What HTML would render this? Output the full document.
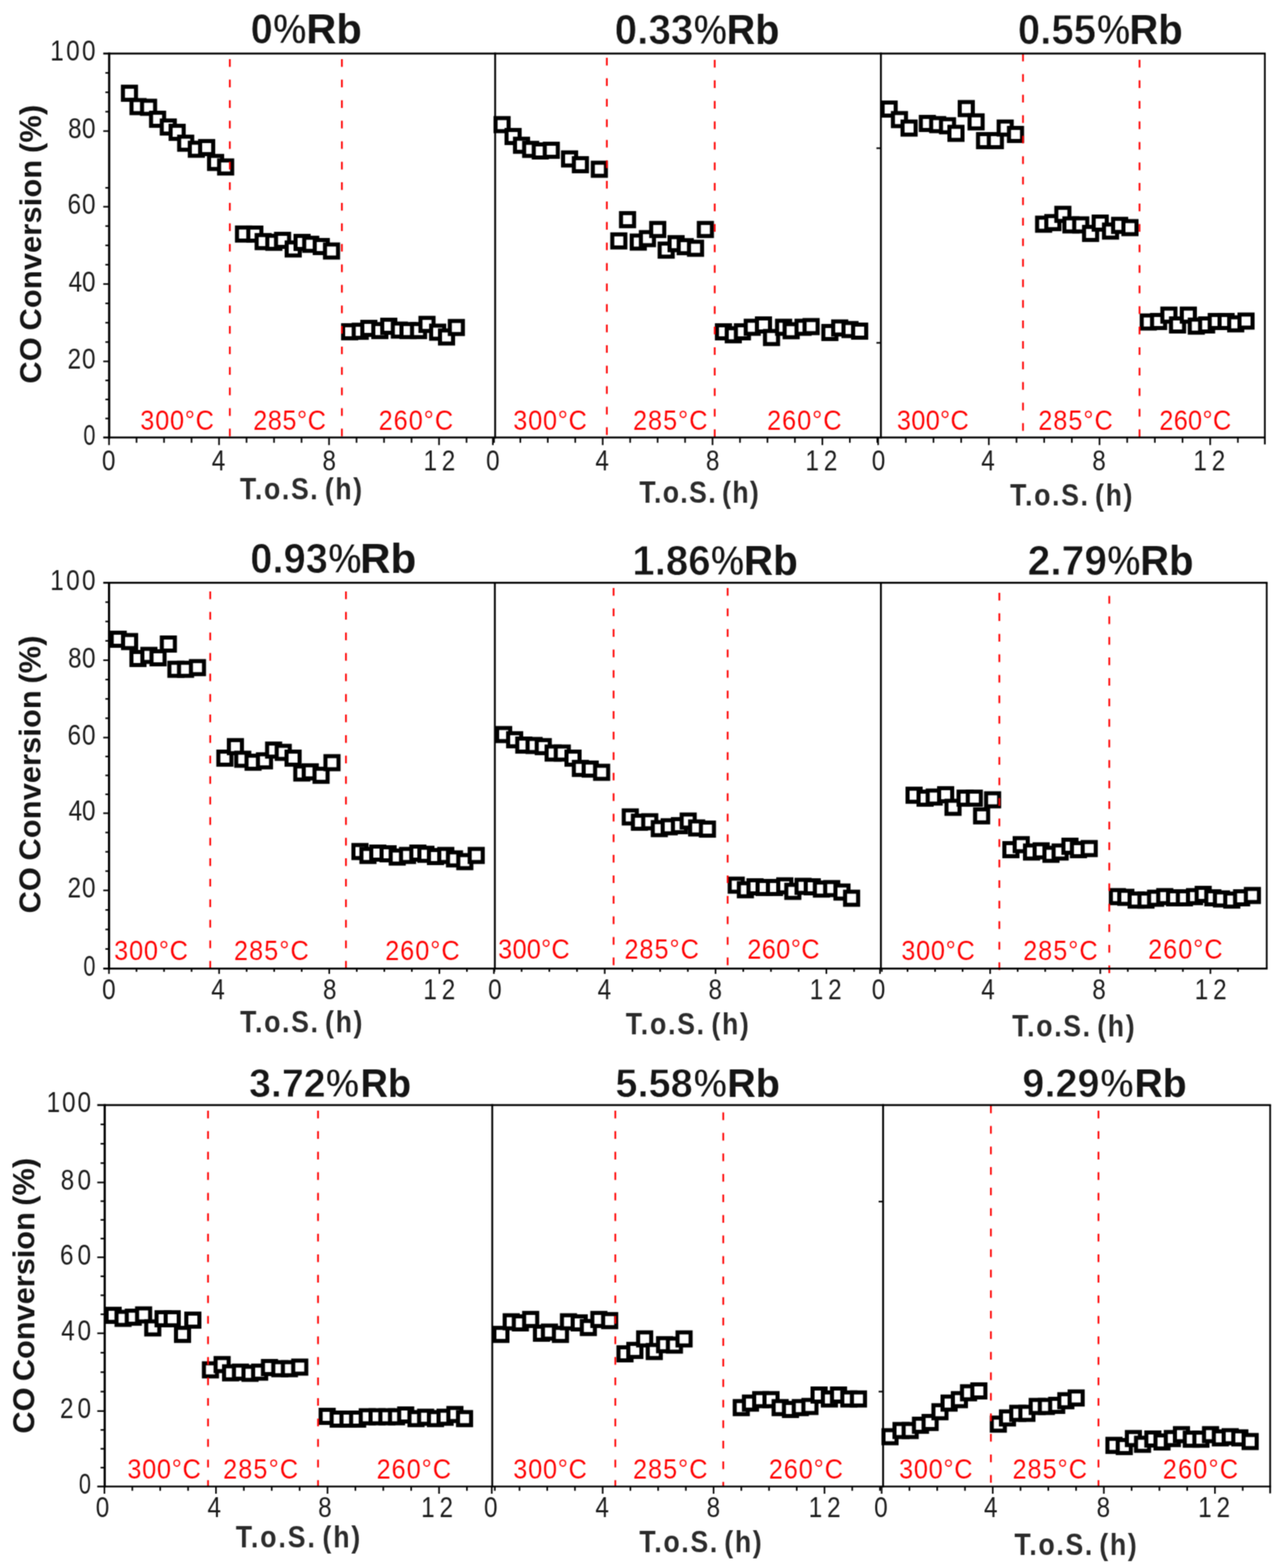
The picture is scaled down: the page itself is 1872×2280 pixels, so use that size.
<!DOCTYPE html>
<html lang="en">
<head>
<meta charset="utf-8">
<title>CO Conversion vs T.o.S.</title>
<style>html,body{margin:0;padding:0;background:#fff}body{width:1872px;height:2280px;overflow:hidden}svg{display:block}</style>
</head>
<body>
<svg width="1872" height="2280" viewBox="0 0 1872 2280" role="img" aria-label="CO conversion versus time on stream for nine Rb loadings" font-family="'Liberation Sans', Arial, sans-serif">
<defs><filter id="soft" x="0" y="0" width="1872" height="2280" filterUnits="userSpaceOnUse" color-interpolation-filters="sRGB"><feConvolveMatrix order="3" kernelMatrix="0.0484 0.1232 0.0484 0.1232 0.3136 0.1232 0.0484 0.1232 0.0484" edgeMode="duplicate" preserveAlpha="true"/></filter></defs>
<g filter="url(#soft)">
<rect width="1872" height="2280" fill="#fff"/>
<g id="row1">
<g fill="#fff" stroke="#000" stroke-width="5.9"><rect x="178.8" y="126.1" width="19" height="19"/><rect x="191.3" y="145.5" width="19" height="19"/><rect x="206.6" y="146.5" width="19" height="19"/><rect x="219.7" y="163.9" width="19" height="19"/><rect x="235.3" y="175.2" width="19" height="19"/><rect x="248.2" y="182.9" width="19" height="19"/><rect x="260.6" y="198.7" width="19" height="19"/><rect x="276.1" y="207.5" width="19" height="19"/><rect x="291.1" y="205.1" width="19" height="19"/><rect x="304.1" y="226.7" width="19" height="19"/><rect x="318.7" y="233.3" width="19" height="19"/><rect x="344.7" y="330.8" width="19" height="19"/><rect x="361.2" y="330.9" width="19" height="19"/><rect x="373.3" y="341.8" width="19" height="19"/><rect x="388.8" y="342.8" width="19" height="19"/><rect x="401.5" y="340" width="19" height="19"/><rect x="417" y="352.5" width="19" height="19"/><rect x="429.9" y="343" width="19" height="19"/><rect x="442.5" y="345.7" width="19" height="19"/><rect x="457.8" y="349" width="19" height="19"/><rect x="472.7" y="355.5" width="19" height="19"/><rect x="499.1" y="472.9" width="19" height="19"/><rect x="514.5" y="472.2" width="19" height="19"/><rect x="527" y="468" width="19" height="19"/><rect x="543" y="471.2" width="19" height="19"/><rect x="556" y="464.9" width="19" height="19"/><rect x="571.4" y="470.5" width="19" height="19"/><rect x="584" y="471.2" width="19" height="19"/><rect x="599.3" y="471.2" width="19" height="19"/><rect x="611.6" y="462.2" width="19" height="19"/><rect x="627.1" y="473.5" width="19" height="19"/><rect x="640" y="480.5" width="19" height="19"/><rect x="654.3" y="466.7" width="19" height="19"/></g>
<g fill="#fff" stroke="#000" stroke-width="5.9"><rect x="720.8" y="171.7" width="19" height="19"/><rect x="736.8" y="189" width="19" height="19"/><rect x="749.1" y="201.7" width="19" height="19"/><rect x="762.4" y="207.7" width="19" height="19"/><rect x="776.4" y="210" width="19" height="19"/><rect x="792.4" y="209" width="19" height="19"/><rect x="819" y="221.6" width="19" height="19"/><rect x="834.7" y="230" width="19" height="19"/><rect x="862.3" y="236.6" width="19" height="19"/><rect x="890.6" y="340.8" width="19" height="19"/><rect x="903.3" y="309.9" width="19" height="19"/><rect x="918.9" y="342.5" width="19" height="19"/><rect x="932.2" y="337.5" width="19" height="19"/><rect x="947.2" y="324.2" width="19" height="19"/><rect x="959.5" y="354.2" width="19" height="19"/><rect x="973.9" y="344.8" width="19" height="19"/><rect x="987.2" y="349.2" width="19" height="19"/><rect x="1002.2" y="351.5" width="19" height="19"/><rect x="1016.5" y="324.2" width="19" height="19"/><rect x="1042.8" y="473" width="19" height="19"/><rect x="1057.1" y="477.3" width="19" height="19"/><rect x="1070.4" y="473" width="19" height="19"/><rect x="1084.7" y="466.4" width="19" height="19"/><rect x="1101" y="463" width="19" height="19"/><rect x="1112.7" y="481.3" width="19" height="19"/><rect x="1130.3" y="466.4" width="19" height="19"/><rect x="1141.3" y="471.4" width="19" height="19"/><rect x="1158.6" y="466.4" width="19" height="19"/><rect x="1170.3" y="465.4" width="19" height="19"/><rect x="1197.6" y="474" width="19" height="19"/><rect x="1211.9" y="467.4" width="19" height="19"/><rect x="1226.9" y="469.7" width="19" height="19"/><rect x="1240.9" y="472" width="19" height="19"/></g>
<g fill="#fff" stroke="#000" stroke-width="5.9"><rect x="1283.8" y="149.1" width="19" height="19"/><rect x="1298.8" y="164.4" width="19" height="19"/><rect x="1312.8" y="176.7" width="19" height="19"/><rect x="1339.4" y="170" width="19" height="19"/><rect x="1354.4" y="171.7" width="19" height="19"/><rect x="1368.7" y="173.4" width="19" height="19"/><rect x="1381" y="184.4" width="19" height="19"/><rect x="1396" y="148.4" width="19" height="19"/><rect x="1410.3" y="167.7" width="19" height="19"/><rect x="1422.6" y="195" width="19" height="19"/><rect x="1438.3" y="195" width="19" height="19"/><rect x="1452.6" y="176.7" width="19" height="19"/><rect x="1467.6" y="186" width="19" height="19"/><rect x="1508.5" y="316.5" width="19" height="19"/><rect x="1521.9" y="314.2" width="19" height="19"/><rect x="1536.5" y="302.2" width="19" height="19"/><rect x="1548.2" y="317.5" width="19" height="19"/><rect x="1562.5" y="317.5" width="19" height="19"/><rect x="1576.8" y="329.9" width="19" height="19"/><rect x="1590.8" y="314.9" width="19" height="19"/><rect x="1605.8" y="326.5" width="19" height="19"/><rect x="1619.1" y="318.2" width="19" height="19"/><rect x="1634.1" y="321.5" width="19" height="19"/><rect x="1660.7" y="458.7" width="19" height="19"/><rect x="1675.7" y="458" width="19" height="19"/><rect x="1690.7" y="448.7" width="19" height="19"/><rect x="1703.3" y="463" width="19" height="19"/><rect x="1719" y="448.7" width="19" height="19"/><rect x="1730.6" y="464.7" width="19" height="19"/><rect x="1745.6" y="463" width="19" height="19"/><rect x="1759.6" y="458" width="19" height="19"/><rect x="1773.9" y="458" width="19" height="19"/><rect x="1787.9" y="461.4" width="19" height="19"/><rect x="1802.9" y="457.4" width="19" height="19"/></g>
<g stroke="#ff0000" stroke-width="2.5" stroke-dasharray="11.2 18.65" fill="none"><path d="M334.3 86V636.2"/><path d="M497.3 86V636.2"/><path d="M882.7 84V636.2"/><path d="M1039.6 87V636.2"/><path d="M1488 78V636.2"/><path d="M1657.5 87V636.2"/></g>
<g stroke="#000" fill="none"><path stroke-width="2.7" d="M150.2 77.8H1841.05"/><path stroke-width="2.7" d="M150.2 636.2H1841.05"/><path stroke-width="2.5" d="M1839.8 77.8V646.2"/><path stroke-width="3.2" d="M158.8 76.45V637.55"/><path stroke-width="2.7" d="M720.2 76.45V637.55"/><path stroke-width="2.7" d="M1281.3 76.45V637.55"/></g>
<g stroke="#000" stroke-width="2.3" fill="none"><path d="M153.3 608.53H158.5"/><path d="M153.3 580.85H158.5"/><path d="M153.3 553.17H158.5"/><path d="M150.2 525.5H158.5"/><path d="M153.3 497.38H158.5"/><path d="M153.3 469.25H158.5"/><path d="M153.3 441.12H158.5"/><path d="M150.2 413H158.5"/><path d="M153.3 384.9H158.5"/><path d="M153.3 356.8H158.5"/><path d="M153.3 328.7H158.5"/><path d="M150.2 300.6H158.5"/><path d="M153.3 273.1H158.5"/><path d="M150.2 190.6H158.5"/><path d="M153.3 162.4H158.5"/><path d="M153.3 134.2H158.5"/><path d="M153.3 106H158.5"/><path d="M158.6 636.2V647.2"/><path d="M198.6 636.2V643.8"/><path d="M238.6 636.2V643.8"/><path d="M278.6 636.2V643.8"/><path d="M318.6 636.2V647.2"/><path d="M358.6 636.2V643.8"/><path d="M398.6 636.2V643.8"/><path d="M438.6 636.2V643.8"/><path d="M478.6 636.2V647.2"/><path d="M518.6 636.2V643.8"/><path d="M558.6 636.2V643.8"/><path d="M598.6 636.2V643.8"/><path d="M638.6 636.2V647.2"/><path d="M678.6 636.2V643.8"/><path d="M718.6 636.2V643.8"/><path d="M716.9 636.2V647.2"/><path d="M756.84 636.2V643.8"/><path d="M796.78 636.2V643.8"/><path d="M836.72 636.2V643.8"/><path d="M876.66 636.2V647.2"/><path d="M916.6 636.2V643.8"/><path d="M956.54 636.2V643.8"/><path d="M996.48 636.2V643.8"/><path d="M1036.42 636.2V647.2"/><path d="M1076.36 636.2V643.8"/><path d="M1116.3 636.2V643.8"/><path d="M1156.24 636.2V643.8"/><path d="M1196.18 636.2V647.2"/><path d="M1236.12 636.2V643.8"/><path d="M1276.06 636.2V643.8"/><path d="M1277.3 636.2V647.2"/><path d="M1317.55 636.2V643.8"/><path d="M1357.8 636.2V643.8"/><path d="M1398.05 636.2V643.8"/><path d="M1438.3 636.2V647.2"/><path d="M1478.55 636.2V643.8"/><path d="M1518.8 636.2V643.8"/><path d="M1559.05 636.2V643.8"/><path d="M1599.3 636.2V647.2"/><path d="M1639.55 636.2V643.8"/><path d="M1679.8 636.2V643.8"/><path d="M1720.05 636.2V643.8"/><path d="M1760.3 636.2V647.2"/><path d="M1800.55 636.2V643.8"/><path d="M1274.8 215.5H1281.3"/><path d="M1274.8 498.5H1281.3"/></g>
<text transform="translate(73.11 88.3) scale(0.83 1)" font-size="42.7" letter-spacing="4.09" fill="#1c1c1c">100</text>
<text transform="translate(98.97 201.1) scale(0.83 1)" font-size="42.7" letter-spacing="0.77" fill="#1c1c1c">80</text>
<text transform="translate(98.14 311.1) scale(0.83 1)" font-size="42.7" letter-spacing="1.77" fill="#1c1c1c">60</text>
<text transform="translate(99.8 423.5) scale(0.83 1)" font-size="42.7" letter-spacing="-0.23" fill="#1c1c1c">40</text>
<text transform="translate(98.14 536) scale(0.83 1)" font-size="42.7" letter-spacing="1.77" fill="#1c1c1c">20</text>
<text transform="translate(121.36 646.7) scale(0.7409 1)" font-size="42.7" fill="#1c1c1c">0</text>
<text transform="translate(59.5 557.75) rotate(-90)" font-size="44.7" font-weight="bold" letter-spacing="0.26" word-spacing="-3" fill="#151515">CO Conversion (%)</text>
<text transform="translate(148.34 683.8) scale(0.83 1)" font-size="42.7" fill="#1c1c1c">0</text>
<text transform="translate(307.95 683.8) scale(0.83 1)" font-size="42.7" fill="#1c1c1c">4</text>
<text transform="translate(468.96 683.8) scale(0.83 1)" font-size="42.7" fill="#1c1c1c">8</text>
<text transform="translate(615.91 683.8) scale(0.83 1)" font-size="42.7" letter-spacing="8.34" fill="#1c1c1c">12</text>
<text transform="translate(349 725.6) scale(0.88 1)" font-size="44" font-weight="bold" letter-spacing="2.73" word-spacing="-6" fill="#2b2b2b">T.o.S. (h)</text>
<text y="63.3" font-size="61.5" font-weight="bold" fill="#151515"><tspan x="364.61" textLength="32.27" lengthAdjust="spacingAndGlyphs" stroke="#fff" stroke-width="0.9">0</tspan><tspan x="397.31" textLength="48.49" lengthAdjust="spacingAndGlyphs" stroke="#fff" stroke-width="1.3">%</tspan><tspan x="445.56" textLength="80.68" lengthAdjust="spacingAndGlyphs">Rb</tspan></text>
<text transform="translate(204.09 625) scale(0.91 1)" font-size="40.5" letter-spacing="1.15" fill="#ff0000" stroke="#fff" stroke-width="0.15">300°C</text>
<text transform="translate(368.18 625) scale(0.91 1)" font-size="40.5" letter-spacing="0.85" fill="#ff0000" stroke="#fff" stroke-width="0.15">285°C</text>
<text transform="translate(550.68 625) scale(0.91 1)" font-size="40.5" letter-spacing="1.54" fill="#ff0000" stroke="#fff" stroke-width="0.15">260°C</text>
<text transform="translate(706.94 683.8) scale(0.83 1)" font-size="42.7" fill="#1c1c1c">0</text>
<text transform="translate(866.06 683.8) scale(0.83 1)" font-size="42.7" fill="#1c1c1c">4</text>
<text transform="translate(1026.76 683.8) scale(0.83 1)" font-size="42.7" fill="#1c1c1c">8</text>
<text transform="translate(1171.61 683.8) scale(0.83 1)" font-size="42.7" letter-spacing="8.34" fill="#1c1c1c">12</text>
<text transform="translate(929.9 731) scale(0.88 1)" font-size="44" font-weight="bold" letter-spacing="2.25" word-spacing="-6" fill="#2b2b2b">T.o.S. (h)</text>
<text y="63.5" font-size="61.5" font-weight="bold" fill="#151515"><tspan x="894.09" textLength="114.52" lengthAdjust="spacingAndGlyphs" stroke="#fff" stroke-width="0.9">0.33</tspan><tspan x="1009.01" textLength="48.49" lengthAdjust="spacingAndGlyphs" stroke="#fff" stroke-width="1.3">%</tspan><tspan x="1057.06" textLength="76.71" lengthAdjust="spacingAndGlyphs">Rb</tspan></text>
<text transform="translate(746.59 625) scale(0.91 1)" font-size="40.5" letter-spacing="1.15" fill="#ff0000" stroke="#fff" stroke-width="0.15">300°C</text>
<text transform="translate(920.68 625) scale(0.91 1)" font-size="40.5" letter-spacing="1.54" fill="#ff0000" stroke="#fff" stroke-width="0.15">285°C</text>
<text transform="translate(1115.68 625) scale(0.91 1)" font-size="40.5" letter-spacing="1.54" fill="#ff0000" stroke="#fff" stroke-width="0.15">260°C</text>
<text transform="translate(1268.04 683.8) scale(0.83 1)" font-size="42.7" fill="#1c1c1c">0</text>
<text transform="translate(1427.25 683.8) scale(0.83 1)" font-size="42.7" fill="#1c1c1c">4</text>
<text transform="translate(1588.86 683.8) scale(0.83 1)" font-size="42.7" fill="#1c1c1c">8</text>
<text transform="translate(1735.81 683.8) scale(0.83 1)" font-size="42.7" letter-spacing="8.34" fill="#1c1c1c">12</text>
<text transform="translate(1469.2 734.6) scale(0.88 1)" font-size="44" font-weight="bold" letter-spacing="2.77" word-spacing="-6" fill="#2b2b2b">T.o.S. (h)</text>
<text y="63.8" font-size="61.5" font-weight="bold" fill="#151515"><tspan x="1480.6" textLength="113.64" lengthAdjust="spacingAndGlyphs" stroke="#fff" stroke-width="0.9">0.55</tspan><tspan x="1595.61" textLength="48.49" lengthAdjust="spacingAndGlyphs" stroke="#fff" stroke-width="1.3">%</tspan><tspan x="1642.82" textLength="77.57" lengthAdjust="spacingAndGlyphs">Rb</tspan></text>
<text transform="translate(1304.59 625) scale(0.91 1)" font-size="40.5" letter-spacing="0.47" fill="#ff0000" stroke="#fff" stroke-width="0.15">300°C</text>
<text transform="translate(1510.18 625) scale(0.91 1)" font-size="40.5" letter-spacing="1.54" fill="#ff0000" stroke="#fff" stroke-width="0.15">285°C</text>
<text transform="translate(1686.18 625) scale(0.91 1)" font-size="40.5" letter-spacing="0.51" fill="#ff0000" stroke="#fff" stroke-width="0.15">260°C</text>
</g>
<g id="row2">
<g fill="#fff" stroke="#000" stroke-width="5.9"><rect x="162.5" y="920" width="19" height="19"/><rect x="179" y="923.4" width="19" height="19"/><rect x="191.2" y="948" width="19" height="19"/><rect x="207.1" y="943.5" width="19" height="19"/><rect x="220.4" y="947" width="19" height="19"/><rect x="235.4" y="927" width="19" height="19"/><rect x="246.4" y="963.7" width="19" height="19"/><rect x="260.4" y="963.7" width="19" height="19"/><rect x="277.7" y="961.3" width="19" height="19"/><rect x="317.6" y="1092.9" width="19" height="19"/><rect x="332.9" y="1076.2" width="19" height="19"/><rect x="343.6" y="1094.5" width="19" height="19"/><rect x="358.6" y="1098.8" width="19" height="19"/><rect x="375.2" y="1096.8" width="19" height="19"/><rect x="388.5" y="1081.2" width="19" height="19"/><rect x="402.5" y="1084.5" width="19" height="19"/><rect x="416.8" y="1092.9" width="19" height="19"/><rect x="429.5" y="1114.5" width="19" height="19"/><rect x="441.8" y="1112.8" width="19" height="19"/><rect x="457.5" y="1117.8" width="19" height="19"/><rect x="473.4" y="1099.5" width="19" height="19"/><rect x="514.1" y="1228.7" width="19" height="19"/><rect x="525.7" y="1234.4" width="19" height="19"/><rect x="540" y="1231" width="19" height="19"/><rect x="555" y="1232" width="19" height="19"/><rect x="568.3" y="1236.7" width="19" height="19"/><rect x="583.3" y="1234.4" width="19" height="19"/><rect x="598.3" y="1231" width="19" height="19"/><rect x="610" y="1232.7" width="19" height="19"/><rect x="623.9" y="1236" width="19" height="19"/><rect x="638.9" y="1234.4" width="19" height="19"/><rect x="651.6" y="1239.4" width="19" height="19"/><rect x="666.6" y="1243.4" width="19" height="19"/><rect x="683.2" y="1234.4" width="19" height="19"/></g>
<g fill="#fff" stroke="#000" stroke-width="5.9"><rect x="723.1" y="1058.6" width="19" height="19"/><rect x="739.1" y="1066.2" width="19" height="19"/><rect x="752.4" y="1073.9" width="19" height="19"/><rect x="767.4" y="1074.5" width="19" height="19"/><rect x="780.7" y="1076.2" width="19" height="19"/><rect x="795.1" y="1085.5" width="19" height="19"/><rect x="808.4" y="1085.5" width="19" height="19"/><rect x="824" y="1092.9" width="19" height="19"/><rect x="834.7" y="1107.8" width="19" height="19"/><rect x="849" y="1108.8" width="19" height="19"/><rect x="865.6" y="1113.5" width="19" height="19"/><rect x="907.3" y="1178.4" width="19" height="19"/><rect x="920.6" y="1186.1" width="19" height="19"/><rect x="935.6" y="1185.4" width="19" height="19"/><rect x="949.5" y="1195.4" width="19" height="19"/><rect x="963.9" y="1192.7" width="19" height="19"/><rect x="978.8" y="1191.1" width="19" height="19"/><rect x="991.5" y="1184.4" width="19" height="19"/><rect x="1003.8" y="1194.4" width="19" height="19"/><rect x="1019.5" y="1196.1" width="19" height="19"/><rect x="1061.4" y="1277.6" width="19" height="19"/><rect x="1074.7" y="1284.3" width="19" height="19"/><rect x="1088.7" y="1280" width="19" height="19"/><rect x="1102" y="1281" width="19" height="19"/><rect x="1117" y="1281" width="19" height="19"/><rect x="1132" y="1278.6" width="19" height="19"/><rect x="1143.7" y="1286.6" width="19" height="19"/><rect x="1158.6" y="1279.3" width="19" height="19"/><rect x="1172" y="1280" width="19" height="19"/><rect x="1185.3" y="1283.3" width="19" height="19"/><rect x="1200.3" y="1282.6" width="19" height="19"/><rect x="1215.2" y="1287.6" width="19" height="19"/><rect x="1229.2" y="1296.6" width="19" height="19"/></g>
<g fill="#fff" stroke="#000" stroke-width="5.9"><rect x="1320.1" y="1146.8" width="19" height="19"/><rect x="1336.1" y="1151.1" width="19" height="19"/><rect x="1349.4" y="1149.5" width="19" height="19"/><rect x="1366" y="1146.1" width="19" height="19"/><rect x="1376.7" y="1164.4" width="19" height="19"/><rect x="1394.3" y="1151.1" width="19" height="19"/><rect x="1407.7" y="1151.1" width="19" height="19"/><rect x="1418.3" y="1176.8" width="19" height="19"/><rect x="1434.3" y="1153.5" width="19" height="19"/><rect x="1460.9" y="1226" width="19" height="19"/><rect x="1475.9" y="1218.7" width="19" height="19"/><rect x="1490.9" y="1229.4" width="19" height="19"/><rect x="1504.9" y="1227.7" width="19" height="19"/><rect x="1519.2" y="1232.7" width="19" height="19"/><rect x="1532.5" y="1229.4" width="19" height="19"/><rect x="1546.8" y="1221" width="19" height="19"/><rect x="1559.2" y="1226" width="19" height="19"/><rect x="1574.8" y="1224.4" width="19" height="19"/><rect x="1615.8" y="1294.3" width="19" height="19"/><rect x="1628.1" y="1295.3" width="19" height="19"/><rect x="1643.1" y="1299.3" width="19" height="19"/><rect x="1657.4" y="1299.3" width="19" height="19"/><rect x="1671.4" y="1296.6" width="19" height="19"/><rect x="1684.7" y="1294.3" width="19" height="19"/><rect x="1699" y="1296" width="19" height="19"/><rect x="1713.3" y="1296" width="19" height="19"/><rect x="1728" y="1294.3" width="19" height="19"/><rect x="1740.6" y="1291" width="19" height="19"/><rect x="1754.6" y="1296" width="19" height="19"/><rect x="1767.2" y="1297.6" width="19" height="19"/><rect x="1782.2" y="1299.3" width="19" height="19"/><rect x="1796.5" y="1296" width="19" height="19"/><rect x="1812.2" y="1292.6" width="19" height="19"/></g>
<g stroke="#ff0000" stroke-width="2.5" stroke-dasharray="11.2 18.65" fill="none"><path d="M305.8 860V1414"/><path d="M503.2 860V1408.3"/><path d="M892.5 855V1408.3"/><path d="M1058.4 855V1408.3"/><path d="M1453.6 862V1413"/><path d="M1613.5 866.5V1419"/></g>
<g stroke="#000" fill="none"><path stroke-width="2.7" d="M150.2 847.4H1843.75"/><path stroke-width="2.7" d="M150.2 1408.3H1843.75"/><path stroke-width="2.5" d="M1842.5 847.4V1408.3"/><path stroke-width="3.2" d="M158.6 846.05V1409.65"/><path stroke-width="2.7" d="M719.8 846.05V1409.65"/><path stroke-width="2.7" d="M1281.3 846.05V1409.65"/></g>
<g stroke="#000" stroke-width="2.3" fill="none"><path d="M153.3 1379.9H158.5"/><path d="M153.3 1351.5H158.5"/><path d="M153.3 1323.1H158.5"/><path d="M150.2 1294.7H158.5"/><path d="M153.3 1266.65H158.5"/><path d="M153.3 1238.6H158.5"/><path d="M153.3 1210.55H158.5"/><path d="M150.2 1182.5H158.5"/><path d="M153.3 1155H158.5"/><path d="M153.3 1127.5H158.5"/><path d="M153.3 1100H158.5"/><path d="M150.2 1072.5H158.5"/><path d="M153.3 1044.38H158.5"/><path d="M153.3 1016.25H158.5"/><path d="M153.3 988.12H158.5"/><path d="M150.2 960H158.5"/><path d="M153.3 931.85H158.5"/><path d="M153.3 903.7H158.5"/><path d="M153.3 875.55H158.5"/><path d="M158.5 1408.3V1416.1"/><path d="M198.55 1408.3V1413.1"/><path d="M238.6 1408.3V1413.1"/><path d="M278.65 1408.3V1413.1"/><path d="M318.7 1408.3V1416.1"/><path d="M358.75 1408.3V1413.1"/><path d="M398.8 1408.3V1413.1"/><path d="M438.85 1408.3V1413.1"/><path d="M478.9 1408.3V1416.1"/><path d="M518.95 1408.3V1413.1"/><path d="M559 1408.3V1413.1"/><path d="M599.05 1408.3V1413.1"/><path d="M639.1 1408.3V1416.1"/><path d="M679.15 1408.3V1413.1"/><path d="M719.2 1408.3V1413.1"/><path d="M718.4 1408.3V1416.1"/><path d="M758.7 1408.3V1413.1"/><path d="M799 1408.3V1413.1"/><path d="M839.3 1408.3V1413.1"/><path d="M879.6 1408.3V1416.1"/><path d="M919.9 1408.3V1413.1"/><path d="M960.2 1408.3V1413.1"/><path d="M1000.5 1408.3V1413.1"/><path d="M1040.8 1408.3V1416.1"/><path d="M1081.1 1408.3V1413.1"/><path d="M1121.4 1408.3V1413.1"/><path d="M1161.7 1408.3V1413.1"/><path d="M1202 1408.3V1416.1"/><path d="M1242.3 1408.3V1413.1"/><path d="M1282.6 1408.3V1413.1"/><path d="M1280 1408.3V1416.1"/><path d="M1320.05 1408.3V1413.1"/><path d="M1360.1 1408.3V1413.1"/><path d="M1400.15 1408.3V1413.1"/><path d="M1440.2 1408.3V1416.1"/><path d="M1480.25 1408.3V1413.1"/><path d="M1520.3 1408.3V1413.1"/><path d="M1560.35 1408.3V1413.1"/><path d="M1600.4 1408.3V1416.1"/><path d="M1640.45 1408.3V1413.1"/><path d="M1680.5 1408.3V1413.1"/><path d="M1720.55 1408.3V1413.1"/><path d="M1760.6 1408.3V1416.1"/><path d="M1800.65 1408.3V1413.1"/></g>
<text transform="translate(73.11 857.9) scale(0.83 1)" font-size="42.7" letter-spacing="4.09" fill="#1c1c1c">100</text>
<text transform="translate(98.97 970.5) scale(0.83 1)" font-size="42.7" letter-spacing="0.77" fill="#1c1c1c">80</text>
<text transform="translate(98.14 1083) scale(0.83 1)" font-size="42.7" letter-spacing="1.77" fill="#1c1c1c">60</text>
<text transform="translate(99.8 1193) scale(0.83 1)" font-size="42.7" letter-spacing="-0.23" fill="#1c1c1c">40</text>
<text transform="translate(98.14 1305.2) scale(0.83 1)" font-size="42.7" letter-spacing="1.77" fill="#1c1c1c">20</text>
<text transform="translate(121.36 1418.8) scale(0.7409 1)" font-size="42.7" fill="#1c1c1c">0</text>
<text transform="translate(58.8 1328.1) rotate(-90)" font-size="44.7" font-weight="bold" letter-spacing="0.17" word-spacing="-3" fill="#151515">CO Conversion (%)</text>
<text transform="translate(148.54 1453.3) scale(0.83 1)" font-size="42.7" fill="#1c1c1c">0</text>
<text transform="translate(307.25 1453.3) scale(0.83 1)" font-size="42.7" fill="#1c1c1c">4</text>
<text transform="translate(469.76 1453.3) scale(0.83 1)" font-size="42.7" fill="#1c1c1c">8</text>
<text transform="translate(615.81 1453.3) scale(0.83 1)" font-size="42.7" letter-spacing="8.34" fill="#1c1c1c">12</text>
<text transform="translate(349.2 1500.5) scale(0.88 1)" font-size="44" font-weight="bold" letter-spacing="2.77" word-spacing="-6" fill="#2b2b2b">T.o.S. (h)</text>
<text y="833.3" font-size="61.5" font-weight="bold" fill="#151515"><tspan x="364.11" textLength="112.86" lengthAdjust="spacingAndGlyphs" stroke="#fff" stroke-width="0.9">0.93</tspan><tspan x="477.41" textLength="48.49" lengthAdjust="spacingAndGlyphs" stroke="#fff" stroke-width="1.3">%</tspan><tspan x="523.71" textLength="81.75" lengthAdjust="spacingAndGlyphs">Rb</tspan></text>
<text transform="translate(166.09 1396.3) scale(0.91 1)" font-size="40.5" letter-spacing="1.22" fill="#ff0000" stroke="#fff" stroke-width="0.15">300°C</text>
<text transform="translate(340.18 1396.3) scale(0.91 1)" font-size="40.5" letter-spacing="1.68" fill="#ff0000" stroke="#fff" stroke-width="0.15">285°C</text>
<text transform="translate(560.18 1396.3) scale(0.91 1)" font-size="40.5" letter-spacing="1.54" fill="#ff0000" stroke="#fff" stroke-width="0.15">260°C</text>
<text transform="translate(710.04 1453.3) scale(0.83 1)" font-size="42.7" fill="#1c1c1c">0</text>
<text transform="translate(869.16 1453.3) scale(0.83 1)" font-size="42.7" fill="#1c1c1c">4</text>
<text transform="translate(1030.56 1453.3) scale(0.83 1)" font-size="42.7" fill="#1c1c1c">8</text>
<text transform="translate(1177.81 1453.3) scale(0.83 1)" font-size="42.7" letter-spacing="8.34" fill="#1c1c1c">12</text>
<text transform="translate(910.2 1503.6) scale(0.88 1)" font-size="44" font-weight="bold" letter-spacing="2.91" word-spacing="-6" fill="#2b2b2b">T.o.S. (h)</text>
<text y="835.6" font-size="61.5" font-weight="bold" fill="#151515"><tspan x="919.64" textLength="113.95" lengthAdjust="spacingAndGlyphs" stroke="#fff" stroke-width="0.9">1.86</tspan><tspan x="1034.01" textLength="48.49" lengthAdjust="spacingAndGlyphs" stroke="#fff" stroke-width="1.3">%</tspan><tspan x="1081.97" textLength="78.43" lengthAdjust="spacingAndGlyphs">Rb</tspan></text>
<text transform="translate(724.59 1394.3) scale(0.91 1)" font-size="40.5" letter-spacing="0.33" fill="#ff0000" stroke="#fff" stroke-width="0.15">300°C</text>
<text transform="translate(908.18 1394.3) scale(0.91 1)" font-size="40.5" letter-spacing="1.54" fill="#ff0000" stroke="#fff" stroke-width="0.15">285°C</text>
<text transform="translate(1086.93 1394.3) scale(0.91 1)" font-size="40.5" letter-spacing="0.65" fill="#ff0000" stroke="#fff" stroke-width="0.15">260°C</text>
<text transform="translate(1268.04 1453.3) scale(0.83 1)" font-size="42.7" fill="#1c1c1c">0</text>
<text transform="translate(1427.25 1453.3) scale(0.83 1)" font-size="42.7" fill="#1c1c1c">4</text>
<text transform="translate(1588.86 1453.3) scale(0.83 1)" font-size="42.7" fill="#1c1c1c">8</text>
<text transform="translate(1737.81 1453.3) scale(0.83 1)" font-size="42.7" letter-spacing="8.34" fill="#1c1c1c">12</text>
<text transform="translate(1472.3 1506.7) scale(0.88 1)" font-size="44" font-weight="bold" letter-spacing="2.78" word-spacing="-6" fill="#2b2b2b">T.o.S. (h)</text>
<text y="835.6" font-size="61.5" font-weight="bold" fill="#151515"><tspan x="1494.77" textLength="115.35" lengthAdjust="spacingAndGlyphs" stroke="#fff" stroke-width="0.9">2.79</tspan><tspan x="1610.51" textLength="48.49" lengthAdjust="spacingAndGlyphs" stroke="#fff" stroke-width="1.3">%</tspan><tspan x="1658.62" textLength="77.46" lengthAdjust="spacingAndGlyphs">Rb</tspan></text>
<text transform="translate(1311.09 1396.3) scale(0.91 1)" font-size="40.5" letter-spacing="1.09" fill="#ff0000" stroke="#fff" stroke-width="0.15">300°C</text>
<text transform="translate(1488.18 1396.3) scale(0.91 1)" font-size="40.5" letter-spacing="1.54" fill="#ff0000" stroke="#fff" stroke-width="0.15">285°C</text>
<text transform="translate(1669.93 1394.3) scale(0.91 1)" font-size="40.5" letter-spacing="1.54" fill="#ff0000" stroke="#fff" stroke-width="0.15">260°C</text>
</g>
<g id="row3">
<g fill="#fff" stroke="#000" stroke-width="5.9"><rect x="155.1" y="1903.1" width="19" height="19"/><rect x="169.5" y="1907.5" width="19" height="19"/><rect x="184.4" y="1905.8" width="19" height="19"/><rect x="199.4" y="1902.5" width="19" height="19"/><rect x="212.7" y="1921.4" width="19" height="19"/><rect x="227.7" y="1908.1" width="19" height="19"/><rect x="241" y="1908.1" width="19" height="19"/><rect x="256" y="1930.8" width="19" height="19"/><rect x="271" y="1910.1" width="19" height="19"/><rect x="296.6" y="1982.4" width="19" height="19"/><rect x="313.6" y="1974.7" width="19" height="19"/><rect x="325.9" y="1986.7" width="19" height="19"/><rect x="340.3" y="1985.7" width="19" height="19"/><rect x="354.2" y="1987.4" width="19" height="19"/><rect x="368.2" y="1985.7" width="19" height="19"/><rect x="382.5" y="1979" width="19" height="19"/><rect x="397.5" y="1980.7" width="19" height="19"/><rect x="411.5" y="1980.7" width="19" height="19"/><rect x="426.5" y="1978.4" width="19" height="19"/><rect x="466.4" y="2050" width="19" height="19"/><rect x="482.4" y="2054" width="19" height="19"/><rect x="496.7" y="2054" width="19" height="19"/><rect x="510.7" y="2054" width="19" height="19"/><rect x="524.7" y="2050.6" width="19" height="19"/><rect x="539" y="2050.6" width="19" height="19"/><rect x="553.3" y="2050.6" width="19" height="19"/><rect x="567.3" y="2050.6" width="19" height="19"/><rect x="580.6" y="2048" width="19" height="19"/><rect x="595.6" y="2053.3" width="19" height="19"/><rect x="609.6" y="2051.3" width="19" height="19"/><rect x="623.9" y="2053.3" width="19" height="19"/><rect x="637.9" y="2051.3" width="19" height="19"/><rect x="652.2" y="2047.3" width="19" height="19"/><rect x="666.2" y="2053.3" width="19" height="19"/></g>
<g fill="#fff" stroke="#000" stroke-width="5.9"><rect x="719.1" y="1930.8" width="19" height="19"/><rect x="734.1" y="1912.5" width="19" height="19"/><rect x="747.4" y="1914.1" width="19" height="19"/><rect x="762.4" y="1909.1" width="19" height="19"/><rect x="778.1" y="1929.1" width="19" height="19"/><rect x="789.7" y="1927.5" width="19" height="19"/><rect x="805.7" y="1930.8" width="19" height="19"/><rect x="817.4" y="1912.5" width="19" height="19"/><rect x="833" y="1914.1" width="19" height="19"/><rect x="846.3" y="1920.8" width="19" height="19"/><rect x="861.6" y="1909.1" width="19" height="19"/><rect x="877.3" y="1910.8" width="19" height="19"/><rect x="899.6" y="1959.1" width="19" height="19"/><rect x="913.9" y="1954.1" width="19" height="19"/><rect x="928.2" y="1937.4" width="19" height="19"/><rect x="942.2" y="1955.7" width="19" height="19"/><rect x="957.2" y="1945.8" width="19" height="19"/><rect x="971.5" y="1946.4" width="19" height="19"/><rect x="985.5" y="1937.4" width="19" height="19"/><rect x="1068.7" y="2037.3" width="19" height="19"/><rect x="1082.1" y="2030.7" width="19" height="19"/><rect x="1097" y="2025.7" width="19" height="19"/><rect x="1112" y="2025.7" width="19" height="19"/><rect x="1125.3" y="2037.3" width="19" height="19"/><rect x="1140.3" y="2040" width="19" height="19"/><rect x="1154.6" y="2037.3" width="19" height="19"/><rect x="1168.6" y="2035.6" width="19" height="19"/><rect x="1181.9" y="2019" width="19" height="19"/><rect x="1196.9" y="2024.7" width="19" height="19"/><rect x="1210.2" y="2019" width="19" height="19"/><rect x="1225.2" y="2024.7" width="19" height="19"/><rect x="1239.2" y="2024.7" width="19" height="19"/></g>
<g fill="#fff" stroke="#000" stroke-width="5.9"><rect x="1285.1" y="2079.6" width="19" height="19"/><rect x="1301.1" y="2070.6" width="19" height="19"/><rect x="1314.4" y="2070.6" width="19" height="19"/><rect x="1329.4" y="2062.9" width="19" height="19"/><rect x="1343.4" y="2058.9" width="19" height="19"/><rect x="1357.7" y="2043.3" width="19" height="19"/><rect x="1371" y="2030.7" width="19" height="19"/><rect x="1386" y="2025.7" width="19" height="19"/><rect x="1399.3" y="2015.7" width="19" height="19"/><rect x="1414.3" y="2013" width="19" height="19"/><rect x="1442.6" y="2061.3" width="19" height="19"/><rect x="1455.9" y="2052.3" width="19" height="19"/><rect x="1470.9" y="2045.6" width="19" height="19"/><rect x="1484.2" y="2045.6" width="19" height="19"/><rect x="1499.2" y="2035.6" width="19" height="19"/><rect x="1512.5" y="2035.6" width="19" height="19"/><rect x="1527.5" y="2034" width="19" height="19"/><rect x="1540.8" y="2027.3" width="19" height="19"/><rect x="1555.8" y="2023.3" width="19" height="19"/><rect x="1610.8" y="2092.2" width="19" height="19"/><rect x="1625.8" y="2093.9" width="19" height="19"/><rect x="1639.1" y="2082.3" width="19" height="19"/><rect x="1652.4" y="2090.6" width="19" height="19"/><rect x="1667.4" y="2082.9" width="19" height="19"/><rect x="1680.7" y="2087.2" width="19" height="19"/><rect x="1695.7" y="2082.3" width="19" height="19"/><rect x="1709" y="2076.6" width="19" height="19"/><rect x="1723.3" y="2083.2" width="19" height="19"/><rect x="1737.3" y="2083.2" width="19" height="19"/><rect x="1751.3" y="2076.6" width="19" height="19"/><rect x="1765.6" y="2081.3" width="19" height="19"/><rect x="1779.9" y="2079.6" width="19" height="19"/><rect x="1793.9" y="2081.3" width="19" height="19"/><rect x="1808.9" y="2086.6" width="19" height="19"/></g>
<g stroke="#ff0000" stroke-width="2.5" stroke-dasharray="11.2 18.65" fill="none"><path d="M302.6 1615V2161.5"/><path d="M462.6 1615V2161.5"/><path d="M895 1615V2161.5"/><path d="M1052 1617.5V2161.5"/><path d="M1441.3 1607.5V2161.5"/><path d="M1597.8 1615V2161.5"/></g>
<g stroke="#000" fill="none"><path stroke-width="2.7" d="M141.5 1606.8H1848.75"/><path stroke-width="2.7" d="M141.5 2161.5H1848.75"/><path stroke-width="2.5" d="M1847.5 1606.8V2171.5"/><path stroke-width="3.2" d="M152.3 1605.45V2162.85"/><path stroke-width="2.7" d="M716 1605.45V2162.85"/><path stroke-width="2.7" d="M1284.5 1605.45V2162.85"/></g>
<g stroke="#000" stroke-width="2.3" fill="none"><path d="M146.3 2134.07H152.3"/><path d="M146.3 2106.65H152.3"/><path d="M146.3 2079.23H152.3"/><path d="M141.5 2051.8H152.3"/><path d="M146.3 2023.53H152.3"/><path d="M146.3 1995.25H152.3"/><path d="M146.3 1966.98H152.3"/><path d="M141.5 1938.7H152.3"/><path d="M146.3 1911.08H152.3"/><path d="M146.3 1883.45H152.3"/><path d="M146.3 1855.83H152.3"/><path d="M141.5 1828.2H152.3"/><path d="M146.3 1801H152.3"/><path d="M146.3 1773.8H152.3"/><path d="M146.3 1746.6H152.3"/><path d="M141.5 1719.4H152.3"/><path d="M146.3 1691.25H152.3"/><path d="M146.3 1663.1H152.3"/><path d="M146.3 1634.95H152.3"/><path d="M151.9 2161.5V2172"/><path d="M192.46 2161.5V2167.7"/><path d="M233.02 2161.5V2167.7"/><path d="M273.58 2161.5V2167.7"/><path d="M314.14 2161.5V2172"/><path d="M354.7 2161.5V2167.7"/><path d="M395.26 2161.5V2167.7"/><path d="M435.82 2161.5V2167.7"/><path d="M476.38 2161.5V2172"/><path d="M516.94 2161.5V2167.7"/><path d="M557.5 2161.5V2167.7"/><path d="M598.06 2161.5V2167.7"/><path d="M638.62 2161.5V2172"/><path d="M679.18 2161.5V2167.7"/><path d="M719.74 2161.5V2167.7"/><path d="M715.3 2161.5V2172"/><path d="M755.63 2161.5V2167.7"/><path d="M795.96 2161.5V2167.7"/><path d="M836.29 2161.5V2167.7"/><path d="M876.62 2161.5V2172"/><path d="M916.95 2161.5V2167.7"/><path d="M957.28 2161.5V2167.7"/><path d="M997.61 2161.5V2167.7"/><path d="M1037.94 2161.5V2172"/><path d="M1078.27 2161.5V2167.7"/><path d="M1118.6 2161.5V2167.7"/><path d="M1158.93 2161.5V2167.7"/><path d="M1199.26 2161.5V2172"/><path d="M1239.59 2161.5V2167.7"/><path d="M1279.92 2161.5V2167.7"/><path d="M1282.4 2161.5V2172"/><path d="M1322.8 2161.5V2167.7"/><path d="M1363.2 2161.5V2167.7"/><path d="M1403.6 2161.5V2167.7"/><path d="M1444 2161.5V2172"/><path d="M1484.4 2161.5V2167.7"/><path d="M1524.8 2161.5V2167.7"/><path d="M1565.2 2161.5V2167.7"/><path d="M1605.6 2161.5V2172"/><path d="M1646 2161.5V2167.7"/><path d="M1686.4 2161.5V2167.7"/><path d="M1726.8 2161.5V2167.7"/><path d="M1767.2 2161.5V2172"/><path d="M1807.6 2161.5V2167.7"/><path d="M1278 1747.2H1284.5"/><path d="M1278 2023.5H1284.5"/></g>
<text transform="translate(67.71 1617.3) scale(0.83 1)" font-size="42.7" letter-spacing="3.43" fill="#1c1c1c">100</text>
<text transform="translate(88.17 1729.9) scale(0.83 1)" font-size="42.7" letter-spacing="5.95" fill="#1c1c1c">80</text>
<text transform="translate(87.34 1838.7) scale(0.83 1)" font-size="42.7" letter-spacing="6.95" fill="#1c1c1c">60</text>
<text transform="translate(89 1949.2) scale(0.83 1)" font-size="42.7" letter-spacing="4.95" fill="#1c1c1c">40</text>
<text transform="translate(87.34 2062.3) scale(0.83 1)" font-size="42.7" letter-spacing="6.95" fill="#1c1c1c">20</text>
<text transform="translate(114.86 2172) scale(0.7409 1)" font-size="42.7" fill="#1c1c1c">0</text>
<text transform="translate(49.5 2084.6) rotate(-90)" font-size="44.7" font-weight="bold" letter-spacing="-0.02" word-spacing="-3" fill="#151515">CO Conversion (%)</text>
<text transform="translate(139.24 2206.2) scale(0.83 1)" font-size="42.7" fill="#1c1c1c">0</text>
<text transform="translate(301.85 2206.2) scale(0.83 1)" font-size="42.7" fill="#1c1c1c">4</text>
<text transform="translate(462.66 2206.2) scale(0.83 1)" font-size="42.7" fill="#1c1c1c">8</text>
<text transform="translate(612.61 2206.2) scale(0.83 1)" font-size="42.7" letter-spacing="8.34" fill="#1c1c1c">12</text>
<text transform="translate(342.9 2250.3) scale(0.88 1)" font-size="44" font-weight="bold" letter-spacing="3.17" word-spacing="-6" fill="#2b2b2b">T.o.S. (h)</text>
<text y="1595.2" font-size="58" font-weight="bold" fill="#151515"><tspan x="362.21" textLength="111.52" lengthAdjust="spacingAndGlyphs" stroke="#fff" stroke-width="0.9">3.72</tspan><tspan x="473.96" textLength="48.48" lengthAdjust="spacingAndGlyphs" stroke="#fff" stroke-width="1.3">%</tspan><tspan x="524.55" textLength="73.4" lengthAdjust="spacingAndGlyphs">Rb</tspan></text>
<text transform="translate(185.34 2150) scale(0.91 1)" font-size="40.5" letter-spacing="1.09" fill="#ff0000" stroke="#fff" stroke-width="0.15">300°C</text>
<text transform="translate(324.43 2150) scale(0.91 1)" font-size="40.5" letter-spacing="1.75" fill="#ff0000" stroke="#fff" stroke-width="0.15">285°C</text>
<text transform="translate(547.68 2150) scale(0.91 1)" font-size="40.5" letter-spacing="1.54" fill="#ff0000" stroke="#fff" stroke-width="0.15">260°C</text>
<text transform="translate(704.04 2206.2) scale(0.83 1)" font-size="42.7" fill="#1c1c1c">0</text>
<text transform="translate(866.06 2206.2) scale(0.83 1)" font-size="42.7" fill="#1c1c1c">4</text>
<text transform="translate(1027.86 2206.2) scale(0.83 1)" font-size="42.7" fill="#1c1c1c">8</text>
<text transform="translate(1176.31 2206.2) scale(0.83 1)" font-size="42.7" letter-spacing="8.34" fill="#1c1c1c">12</text>
<text transform="translate(929.9 2256.5) scale(0.88 1)" font-size="44" font-weight="bold" letter-spacing="2.78" word-spacing="-6" fill="#2b2b2b">T.o.S. (h)</text>
<text y="1595.2" font-size="58" font-weight="bold" fill="#151515"><tspan x="895" textLength="112.75" lengthAdjust="spacingAndGlyphs" stroke="#fff" stroke-width="0.9">5.58</tspan><tspan x="1008.96" textLength="48.48" lengthAdjust="spacingAndGlyphs" stroke="#fff" stroke-width="1.3">%</tspan><tspan x="1057.82" textLength="76.69" lengthAdjust="spacingAndGlyphs">Rb</tspan></text>
<text transform="translate(746.59 2150) scale(0.91 1)" font-size="40.5" letter-spacing="1.15" fill="#ff0000" stroke="#fff" stroke-width="0.15">300°C</text>
<text transform="translate(920.68 2150) scale(0.91 1)" font-size="40.5" letter-spacing="1.54" fill="#ff0000" stroke="#fff" stroke-width="0.15">285°C</text>
<text transform="translate(1118.18 2150) scale(0.91 1)" font-size="40.5" letter-spacing="1.4" fill="#ff0000" stroke="#fff" stroke-width="0.15">260°C</text>
<text transform="translate(1271.54 2206.2) scale(0.83 1)" font-size="42.7" fill="#1c1c1c">0</text>
<text transform="translate(1431.15 2206.2) scale(0.83 1)" font-size="42.7" fill="#1c1c1c">4</text>
<text transform="translate(1595.06 2206.2) scale(0.83 1)" font-size="42.7" fill="#1c1c1c">8</text>
<text transform="translate(1742.81 2206.2) scale(0.83 1)" font-size="42.7" letter-spacing="8.34" fill="#1c1c1c">12</text>
<text transform="translate(1475.4 2260.7) scale(0.88 1)" font-size="44" font-weight="bold" letter-spacing="2.78" word-spacing="-6" fill="#2b2b2b">T.o.S. (h)</text>
<text y="1595.2" font-size="58" font-weight="bold" fill="#151515"><tspan x="1487.11" textLength="112.14" lengthAdjust="spacingAndGlyphs" stroke="#fff" stroke-width="0.9">9.29</tspan><tspan x="1600.46" textLength="48.48" lengthAdjust="spacingAndGlyphs" stroke="#fff" stroke-width="1.3">%</tspan><tspan x="1650.16" textLength="75.84" lengthAdjust="spacingAndGlyphs">Rb</tspan></text>
<text transform="translate(1307.84 2150) scale(0.91 1)" font-size="40.5" letter-spacing="1.09" fill="#ff0000" stroke="#fff" stroke-width="0.15">300°C</text>
<text transform="translate(1472.68 2150) scale(0.91 1)" font-size="40.5" letter-spacing="1.54" fill="#ff0000" stroke="#fff" stroke-width="0.15">285°C</text>
<text transform="translate(1691.18 2150) scale(0.91 1)" font-size="40.5" letter-spacing="1.88" fill="#ff0000" stroke="#fff" stroke-width="0.15">260°C</text>
</g>
</g>
</svg>
</body>
</html>
